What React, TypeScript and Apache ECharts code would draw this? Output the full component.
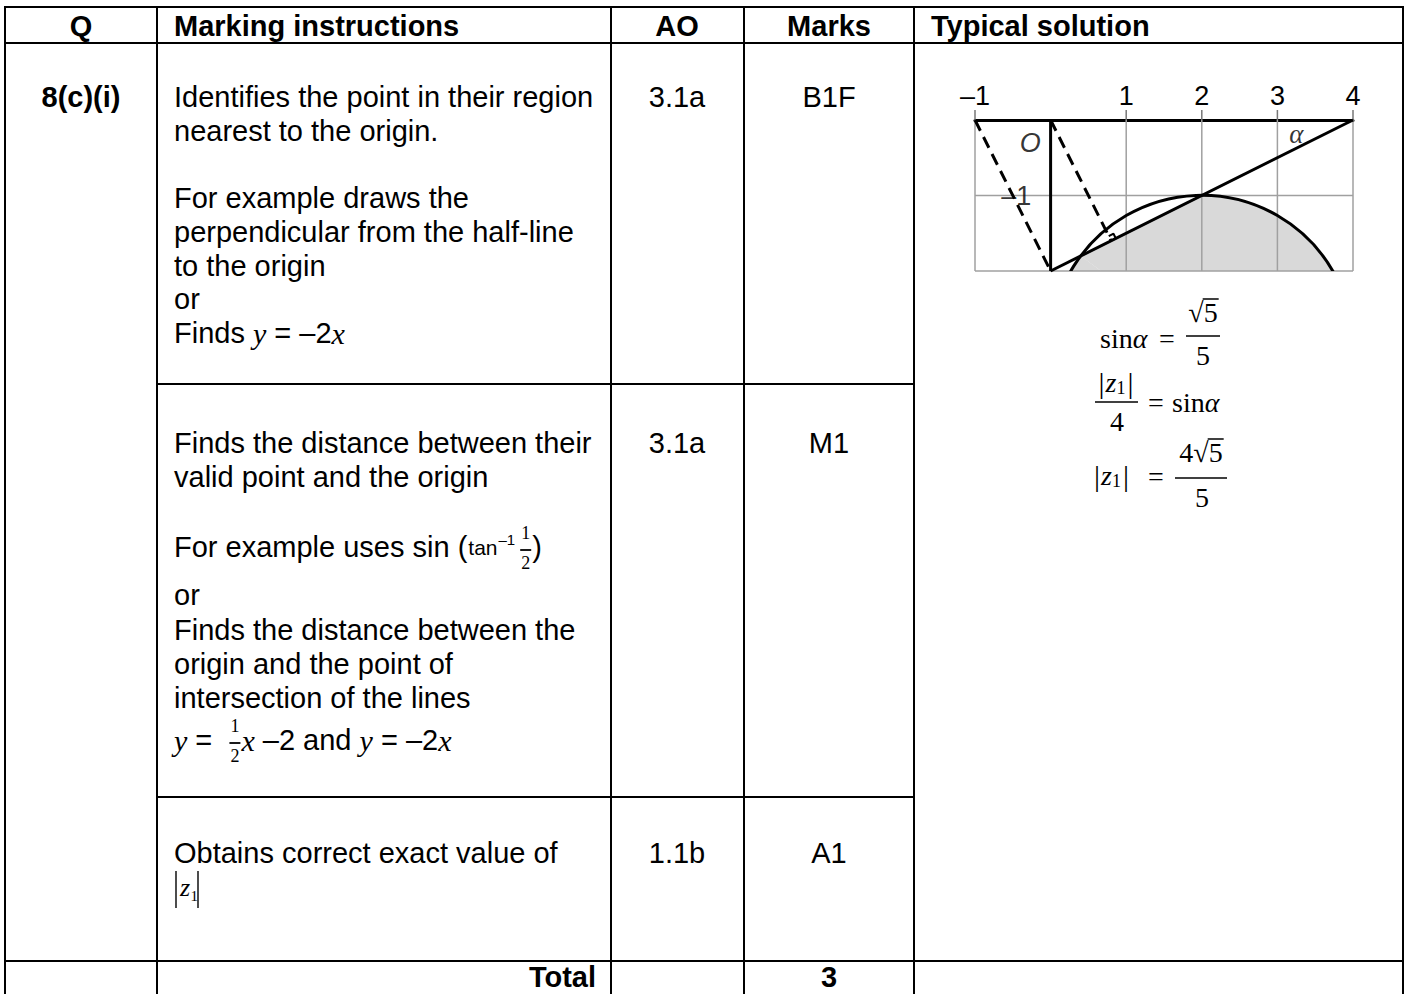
import React, { useEffect, useRef } from 'react';
import * as echarts from 'echarts';

// ---------------- data ----------------
const headers = ['Q', 'Marking instructions', 'AO', 'Marks', 'Typical solution'];
const questionLabel = '8(c)(i)';
const aoCodes = ['3.1a', '3.1a', '1.1b'];
const markCodes = ['B1F', 'M1', 'A1'];
const totalLabel = 'Total';
const totalMarks = '3';
const row1Lines = [
  'Identifies the point in their region',
  'nearest to the origin.',
  '',
  'For example draws the',
  'perpendicular from the half-line',
  'to the origin',
  'or',
];
const row2LinesA = ['Finds the distance between their', 'valid point and the origin'];
const row2LinesB = ['or', 'Finds the distance between the', 'origin and the point of', 'intersection of the lines'];
const row3Line = 'Obtains correct exact value of';

// diagram (Argand diagram values)
const xAxisMin = -1;
const xAxisMax = 4;
const yAxisMin = -2;
const yAxisMax = 0;
const xTickValues = [-1, 1, 2, 3, 4];
const gridXValues = [-1, 1, 2, 3, 4];
const gridYValues = [-1, -2];
const circleData = [2, -3, 2]; // centre re, centre im, radius
const chordPoints = [
  [0.4, -1.8],
  [2, -1],
];
const imaginaryAxisSeg = [
  [0, 0],
  [0, -2],
];
const halfLineSeg = [
  [0, -2],
  [4, 0],
];
const perpendicularSeg = [
  [0, 0],
  [0.8, -1.6],
];
const parallelSeg = [
  [-1, 0],
  [0, -2],
];
const rightAngleMark = [
  [0.769, -1.537],
  [0.832, -1.506],
  [0.863, -1.569],
];
const diagramLabelText = ['O', 'α', '–1', '–2'];
const diagramLabelAt = [
  [-0.27, -0.31],
  [3.25, -0.19],
  [-0.455, -1.01],
  [-0.43, -2.01],
];

// ---------------- helpers ----------------
const SANS = "'Liberation Sans', Arial, Helvetica, sans-serif";
const SERIF = "'Liberation Serif', 'Times New Roman', Times, serif";
const FS = 29;

let mctx: CanvasRenderingContext2D | null = null;
function measure(text: string, size: number, family: string, style = 'normal', weight = 'normal') {
  if (!mctx) mctx = document.createElement('canvas').getContext('2d');
  if (!mctx) return text.length * size * 0.5;
  mctx.font = `${style} ${weight} ${size}px ${family}`;
  return mctx.measureText(text).width;
}

function textEl(
  x: number,
  y: number,
  text: string,
  size: number,
  family: string,
  style = 'normal',
  weight = 'normal',
  align = 'left'
) {
  return {
    type: 'text',
    x,
    y,
    silent: true,
    style: {
      text,
      fontSize: size,
      fontFamily: family,
      fontStyle: style,
      fontWeight: weight,
      fill: '#000',
      align,
      verticalAlign: 'middle',
      textAlign: align,
      textVerticalAlign: 'middle',
    },
  };
}

function lineEl(x1: number, y1: number, x2: number, y2: number, w = 2) {
  return {
    type: 'line',
    silent: true,
    shape: { x1, y1, x2, y2 },
    style: { stroke: '#000', lineWidth: w },
  };
}

type Part = {
  t?: string;
  frac?: [string, string];
  size?: number;
  family?: string;
  style?: string;
  weight?: string;
  dy?: number;
  gap?: number;
  gapR?: number;
  over?: number;
};

function fracWidth(p: Part) {
  const fam = p.family ?? SERIF;
  const s = p.size ?? 17;
  return Math.max(measure(p.frac![0], s, fam), measure(p.frac![1], s, fam)) + 4;
}

function seq(x0: number, y: number, parts: Part[], anchor: 'left' | 'center' | 'right' = 'left') {
  const widths = parts.map((p) =>
    p.frac
      ? fracWidth(p) + (p.gap || 0) + (p.gapR || 0)
      : measure(p.t!, p.size ?? FS, p.family ?? SANS, p.style ?? 'normal', p.weight ?? 'normal') + (p.gap || 0)
  );
  const total = widths.reduce((a, b) => a + b, 0);
  let x = anchor === 'left' ? x0 : anchor === 'center' ? x0 - total / 2 : x0 - total;
  const els: any[] = [];
  parts.forEach((p, i) => {
    const xs = x + (p.gap || 0);
    if (p.frac) {
      const fw = fracWidth(p);
      const fam = p.family ?? SERIF;
      const s = p.size ?? 17;
      els.push(textEl(xs + fw / 2, y - 14, p.frac[0], s, fam, 'normal', 'normal', 'center'));
      els.push(textEl(xs + fw / 2, y + 16, p.frac[1], s, fam, 'normal', 'normal', 'center'));
      els.push(lineEl(xs + 1, y + 3, xs + fw - 1, y + 3, 1.8));
    } else {
      els.push(
        textEl(xs, y + (p.dy || 0), p.t!, p.size ?? FS, p.family ?? SANS, p.style ?? 'normal', p.weight ?? 'normal', 'left')
      );
      if (p.over != null) {
        const w = widths[i] - (p.gap || 0);
        els.push(lineEl(xs - 1, y + p.over, xs + w + 1, y + p.over, 1.5));
      }
    }
    x += widths[i];
  });
  return els;
}

// |z1| builder
function absZ1(x: number, y: number, size: number, anchor: 'left' | 'center' = 'left') {
  return seq(
    x,
    y,
    [
      { t: '|', family: SERIF, size: size + 2 },
      { t: 'z', family: SERIF, style: 'italic', size, gap: 1 },
      { t: '1', family: SERIF, size: Math.round(size * 0.65), dy: 6 },
      { t: '|', family: SERIF, size: size + 2, gap: 2 },
    ],
    anchor
  );
}

// ---------------- table graphics ----------------
function buildGraphics() {
  const els: any[] = [];
  const colX = [5, 157, 611, 744, 914, 1403];
  const top = 7;
  const bottom = 994;
  // horizontal rules
  els.push(lineEl(colX[0], top, colX[5], top, 2));
  els.push(lineEl(colX[0], 43, colX[5], 43, 2));
  els.push(lineEl(colX[1], 384, colX[4], 384, 2));
  els.push(lineEl(colX[1], 797, colX[4], 797, 2));
  els.push(lineEl(colX[0], 961, colX[5], 961, 2.2));
  // vertical rules
  colX.forEach((x) => els.push(lineEl(x, top - 1, x, bottom, 2)));

  // headers
  const hy = 26;
  els.push(textEl(81, hy, headers[0], FS, SANS, 'normal', 'bold', 'center'));
  els.push(textEl(174, hy, headers[1], FS, SANS, 'normal', 'bold', 'left'));
  els.push(textEl(677, hy, headers[2], FS, SANS, 'normal', 'bold', 'center'));
  els.push(textEl(829, hy, headers[3], FS, SANS, 'normal', 'bold', 'center'));
  els.push(textEl(931, hy, headers[4], FS, SANS, 'normal', 'bold', 'left'));

  // question
  els.push(textEl(81, 97, questionLabel, FS, SANS, 'normal', 'bold', 'center'));

  // AO / Marks
  const rowYs = [97, 443, 853];
  rowYs.forEach((y, i) => {
    els.push(textEl(677, y, aoCodes[i], FS, SANS, 'normal', 'normal', 'center'));
    els.push(textEl(829, y, markCodes[i], FS, SANS, 'normal', 'normal', 'center'));
  });

  // row 1
  const r1y = [97, 131, 165, 198, 232, 266, 299];
  row1Lines.forEach((t, i) => {
    if (t) els.push(textEl(174, r1y[i], t, FS, SANS));
  });
  els.push(
    ...seq(174, 333, [
      { t: 'Finds ' },
      { t: 'y', family: SERIF, style: 'italic', size: FS + 1 },
      { t: ' = –2' },
      { t: 'x', family: SERIF, style: 'italic', size: FS + 1 },
    ])
  );

  // row 2
  const r2yA = [443, 477];
  row2LinesA.forEach((t, i) => els.push(textEl(174, r2yA[i], t, FS, SANS)));
  els.push(
    ...seq(174, 547, [
      { t: 'For example uses sin (' },
      { t: 'tan', size: 21, gap: 1 },
      { t: '–1', size: 15, dy: -8, gap: 1 },
      { frac: ['1', '2'], size: 18, gap: 4 },
      { t: ')' },
    ])
  );
  const r2yB = [595, 630, 664, 698];
  row2LinesB.forEach((t, i) => els.push(textEl(174, r2yB[i], t, FS, SANS)));
  els.push(
    ...seq(174, 740, [
      { t: 'y', family: SERIF, style: 'italic', size: FS + 1 },
      { t: ' =  ' },
      { frac: ['1', '2'], size: 18 },
      { t: 'x', family: SERIF, style: 'italic', size: FS + 1 },
      { t: ' –2 and ' },
      { t: 'y', family: SERIF, style: 'italic', size: FS + 1 },
      { t: ' = –2' },
      { t: 'x', family: SERIF, style: 'italic', size: FS + 1 },
    ])
  );

  // row 3
  els.push(textEl(174, 853, row3Line, FS, SANS));
  els.push(lineEl(176, 871, 176, 908, 1.4));
  els.push(lineEl(198, 871, 198, 908, 1.4));
  els.push(textEl(180, 887, 'z', 26, SERIF, 'italic'));
  els.push(textEl(190.5, 896, '1', 15, SERIF));

  // total
  els.push(textEl(596, 977, totalLabel, FS, SANS, 'normal', 'bold', 'right'));
  els.push(textEl(829, 977, totalMarks, FS, SANS, 'normal', 'bold', 'center'));

  // typical solution formulas
  const MS = 28;
  // sin α = √5 / 5
  els.push(...seq(1100, 338, [{ t: 'sin', family: SERIF, size: MS }, { t: 'α', family: SERIF, style: 'italic', size: MS }]));
  els.push(textEl(1167, 338, '=', MS, SERIF, 'normal', 'normal', 'center'));
  els.push(
    ...seq(1203, 312, [{ t: '√', family: SERIF, size: MS }, { t: '5', family: SERIF, size: MS, over: -13 }], 'center')
  );
  els.push(lineEl(1186, 336, 1220, 336, 1.6));
  els.push(textEl(1203, 355, '5', MS, SERIF, 'normal', 'normal', 'center'));

  // |z1| / 4 = sin α
  els.push(...absZ1(1116, 382, MS, 'center'));
  els.push(lineEl(1095, 402, 1138, 402, 1.6));
  els.push(textEl(1117, 421, '4', MS, SERIF, 'normal', 'normal', 'center'));
  els.push(textEl(1156, 402, '=', MS, SERIF, 'normal', 'normal', 'center'));
  els.push(...seq(1172, 402, [{ t: 'sin', family: SERIF, size: MS }, { t: 'α', family: SERIF, style: 'italic', size: MS }]));

  // |z1| = 4√5 / 5
  els.push(...absZ1(1094, 475, MS, 'left'));
  els.push(textEl(1156, 476, '=', MS, SERIF, 'normal', 'normal', 'center'));
  els.push(
    ...seq(
      1201,
      452,
      [
        { t: '4', family: SERIF, size: MS },
        { t: '√', family: SERIF, size: MS },
        { t: '5', family: SERIF, size: MS, over: -13 },
      ],
      'center'
    )
  );
  els.push(lineEl(1175, 478, 1227, 478, 1.6));
  els.push(textEl(1202, 497, '5', MS, SERIF, 'normal', 'normal', 'center'));

  return els;
}

// ---------------- chart option ----------------
function buildOption() {
  const grey = '#a0a0a0';
  const labelStyles = [
    { fontSize: 27, fontFamily: SANS, fontStyle: 'italic' },
    { fontSize: 27, fontFamily: SERIF, fontStyle: 'italic' },
    { fontSize: 27, fontFamily: SANS, fontStyle: 'normal' },
    { fontSize: 27, fontFamily: SANS, fontStyle: 'normal' },
  ];
  const lineSeries = (data: number[][], width: number, type: any, z: number) => ({
    type: 'line',
    data,
    symbol: 'none',
    showSymbol: false,
    silent: true,
    clip: false,
    z,
    lineStyle: { color: '#000', width, type },
  });

  return {
    animation: false,
    backgroundColor: '#ffffff',
    grid: { left: 975, top: 120, width: 378, height: 151, containLabel: false, outerBoundsMode: 'none' },
    xAxis: {
      type: 'value',
      min: xAxisMin,
      max: xAxisMax,
      interval: 1,
      position: 'top',
      axisLine: { show: true, onZero: false, lineStyle: { color: '#000', width: 3 } },
      axisTick: { show: false },
      splitLine: { show: false },
      axisLabel: {
        show: true,
        margin: 11,
        fontSize: 27,
        fontFamily: SANS,
        color: '#000',
        formatter: (v: number) => (v === 0 ? '' : v < 0 ? '–' + -v : String(v)),
      },
    },
    yAxis: {
      type: 'value',
      min: yAxisMin,
      max: yAxisMax,
      show: false,
      splitLine: { show: false },
    },
    series: [
      {
        type: 'custom',
        name: 'region',
        coordinateSystem: 'cartesian2d',
        clip: true,
        silent: true,
        z: 1,
        data: [circleData],
        renderItem: (_p: any, api: any) => {
          const c = api.coord([api.value(0), api.value(1)]);
          const r = api.size([api.value(2), 0])[0];
          const a = api.coord(chordPoints[0]);
          const b = api.coord(chordPoints[1]);
          const angA = Math.atan2(a[1] - c[1], a[0] - c[0]);
          const angB = Math.atan2(b[1] - c[1], b[0] - c[0]);
          let end = angA;
          while (end <= angB) end += Math.PI * 2;
          return {
            type: 'group',
            children: [
              {
                type: 'sector',
                shape: { cx: c[0], cy: c[1], r0: 0, r, startAngle: angB, endAngle: end, clockwise: true },
                style: { fill: '#d9d9d9' },
              },
              { type: 'polygon', shape: { points: [c, a, b] }, style: { fill: '#d9d9d9' } },
            ],
          };
        },
      },
      {
        type: 'custom',
        name: 'gridX',
        coordinateSystem: 'cartesian2d',
        silent: true,
        z: 2,
        data: gridXValues.map((v) => [v, yAxisMax, yAxisMin]),
        renderItem: (_p: any, api: any) => {
          const p1 = api.coord([api.value(0), api.value(1)]);
          const p2 = api.coord([api.value(0), api.value(2)]);
          return {
            type: 'line',
            shape: { x1: p1[0], y1: p1[1], x2: p2[0], y2: p2[1] },
            style: { stroke: grey, lineWidth: 1.5 },
          };
        },
      },
      {
        type: 'custom',
        name: 'gridY',
        coordinateSystem: 'cartesian2d',
        silent: true,
        z: 2,
        data: gridYValues.map((v) => [xAxisMin, v, xAxisMax]),
        renderItem: (_p: any, api: any) => {
          const p1 = api.coord([api.value(0), api.value(1)]);
          const p2 = api.coord([api.value(2), api.value(1)]);
          return {
            type: 'line',
            shape: { x1: p1[0], y1: p1[1], x2: p2[0], y2: p2[1] },
            style: { stroke: grey, lineWidth: 1.5 },
          };
        },
      },
      {
        type: 'custom',
        name: 'ticks',
        coordinateSystem: 'cartesian2d',
        silent: true,
        clip: false,
        z: 2,
        data: xTickValues.map((v) => [v, yAxisMax]),
        renderItem: (_p: any, api: any) => {
          const p = api.coord([api.value(0), api.value(1)]);
          return {
            type: 'line',
            shape: { x1: p[0], y1: p[1], x2: p[0], y2: p[1] - 10 },
            style: { stroke: '#777', lineWidth: 1.5 },
          };
        },
      },
      {
        type: 'custom',
        name: 'circle',
        coordinateSystem: 'cartesian2d',
        clip: true,
        silent: true,
        z: 3,
        data: [circleData],
        renderItem: (_p: any, api: any) => {
          const c = api.coord([api.value(0), api.value(1)]);
          const r = api.size([api.value(2), 0])[0];
          return {
            type: 'circle',
            shape: { cx: c[0], cy: c[1], r },
            style: { fill: 'none', stroke: '#000', lineWidth: 3 },
          };
        },
      },
      lineSeries(imaginaryAxisSeg, 3, 'solid', 4),
      lineSeries(halfLineSeg, 3, 'solid', 4),
      lineSeries(perpendicularSeg, 3, [12, 7], 4),
      lineSeries(parallelSeg, 3, [12, 7], 4),
      lineSeries(rightAngleMark, 2, 'solid', 4),
      {
        type: 'scatter',
        silent: true,
        z: 6,
        symbolSize: 1,
        itemStyle: { color: 'rgba(0,0,0,0)' },
        data: diagramLabelText.map((t, i) => ({
          name: t,
          value: diagramLabelAt[i],
          label: { show: true, position: 'inside', formatter: t, color: '#000', ...labelStyles[i] },
        })),
      },
    ],
    graphic: { elements: buildGraphics() },
  };
}

export default function App() {
  const ref = useRef<HTMLDivElement>(null);
  useEffect(() => {
    if (!ref.current) return;
    const chart = echarts.init(ref.current, null, { renderer: 'svg' });
    chart.setOption(buildOption() as any);
    return () => chart.dispose();
  }, []);
  return (
    <div
      ref={ref}
      style={{ position: 'fixed', left: 0, top: 0, width: 1408, height: 994, background: '#fff' }}
    />
  );
}
